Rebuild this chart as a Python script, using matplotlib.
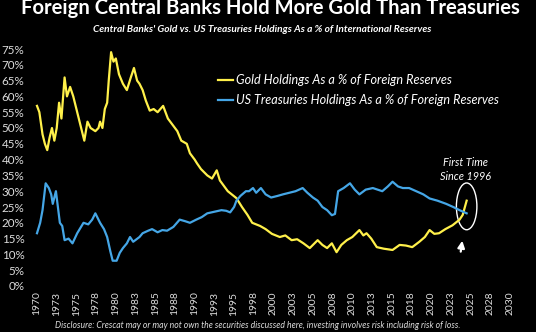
import matplotlib
matplotlib.use("Agg")
import matplotlib.pyplot as plt
from matplotlib.patches import Ellipse

plt.rcParams['font.family'] = ['Lato', 'DejaVu Sans']

gold_years = [1970.0, 1970.3, 1970.7, 1971.0, 1971.3, 1971.6, 1971.9, 1972.2, 1972.5, 1972.8,
              1973.1, 1973.5, 1973.8, 1974.2, 1974.6, 1975.1, 1975.6, 1976.0, 1976.4, 1976.8,
              1977.4, 1977.8, 1978.0, 1978.3, 1978.6, 1978.9, 1979.1, 1979.4, 1979.7, 1980.0,
              1980.4, 1980.9, 1981.4, 1981.9, 1982.3, 1982.7, 1983.0, 1983.4, 1983.8, 1984.3,
              1984.8, 1985.3, 1986.0, 1986.6, 1987.2, 1987.8, 1988.3, 1989.0, 1989.4, 1990.0,
              1990.3, 1990.8, 1991.6, 1992.2, 1992.8, 1993.2, 1994.2, 1995.3, 1996.0, 1996.7,
              1997.3, 1998.3, 1999.0, 1999.8, 2000.8, 2001.5, 2002.3, 2003.0, 2003.8, 2004.6,
              2005.6, 2006.2, 2006.8, 2007.4, 2008.0, 2008.6, 2009.3, 2010.0, 2010.9, 2011.4,
              2011.8, 2012.4, 2013.1, 2014.0, 2015.1, 2016.0, 2016.8, 2017.6, 2018.5, 2019.2,
              2019.8, 2020.4, 2021.0, 2021.8, 2022.7, 2023.6, 2024.0, 2024.5]
gold_pct = [57, 55, 48, 45, 43, 47, 50, 46, 50, 58,
            53, 66, 60, 63, 60, 55, 50, 46, 52, 50,
            49, 50, 52, 50, 56, 58, 65, 74, 71, 72,
            67, 64, 62, 66, 69, 65, 64, 62, 58.7, 55.5,
            56, 55, 57, 53, 51, 49, 46, 45, 42, 40,
            38.8, 37, 35, 34, 36.6, 33.4, 30, 27.8, 25, 22.5,
            20, 19, 18, 16.5, 15.5, 16, 14.5, 14.8, 13.5, 12,
            14.5, 13, 12, 13.5, 10.7, 13, 14.5, 15.5, 17.7, 16,
            16.7, 15, 12.3, 11.8, 11.4, 13, 12.8, 12.3, 14, 15.5,
            17.7, 16.5, 16.7, 18, 19.2, 21, 22.5, 27]

ust_years = [1970.0, 1970.4, 1970.7, 1971.1, 1971.5, 1971.8, 1972.0, 1972.4, 1972.9, 1973.2,
             1973.5, 1974.0, 1974.5, 1975.1, 1975.9, 1976.5, 1977.0, 1977.4, 1978.0, 1978.5,
             1978.9, 1979.3, 1979.6, 1980.1, 1980.5, 1980.9, 1981.4, 1981.8, 1982.2, 1983.0,
             1983.4, 1984.1, 1984.6, 1985.3, 1985.9, 1986.5, 1987.3, 1988.1, 1988.8, 1989.4,
             1990.2, 1990.9, 1991.6, 1992.5, 1993.4, 1994.0, 1994.5, 1995.0, 1995.3, 1995.8,
             1996.5, 1996.9, 1997.4, 1997.8, 1998.4, 1999.0, 1999.7, 2000.5, 2001.2, 2002.0,
             2002.8, 2003.7, 2004.3, 2005.0, 2005.6, 2006.2, 2006.8, 2007.4, 2007.8, 2008.2,
             2008.9, 2009.7, 2010.3, 2010.9, 2011.7, 2012.6, 2013.2, 2013.8, 2014.5, 2015.1,
             2015.8, 2016.4, 2017.2, 2018.1, 2019.0, 2019.8, 2020.8, 2021.9, 2022.8, 2023.6,
             2024.5]
ust_pct = [16.7, 20, 24, 32.5, 31, 29, 26, 30, 20, 19,
           14.5, 15, 13.5, 16.7, 20, 19.5, 21, 23, 20, 18,
           15.5, 11, 8, 8, 10.5, 12, 13.5, 15.5, 14, 15.5,
           16.7, 17.5, 18, 17, 17.7, 17.5, 18.7, 21, 20.5, 20,
           21, 21.8, 23, 23.5, 24, 23.8, 23.3, 25, 27, 28.5,
           30, 30, 31, 29.5, 31, 29, 28, 28.5, 29, 29.5,
           30, 31, 29.5, 28, 27, 25, 24, 22.4, 22.8, 30,
           31, 32.5, 30.5, 29, 30.5, 31, 30.5, 30, 31.5, 33,
           31.5, 31, 31, 30, 29, 27.7, 27, 26, 25, 24,
           23]

xtick_pos = [1970 + 2.5 * i for i in range(25)]
xtick_labels = ['1970', '1973', '1975', '1978', '1980', '1983', '1985', '1988', '1990', '1993',
                '1995', '1998', '2000', '2003', '2005', '2008', '2010', '2013', '2015', '2018',
                '2020', '2023', '2025', '2028', '2030']
ytick_pos = list(range(0, 80, 5))
ytick_labels = [f'{v}%' for v in ytick_pos]

W, H = 536, 332
fig = plt.figure(figsize=(W / 100, H / 100), dpi=100, facecolor='black')
ax = fig.add_axes([37 / W, (H - 286) / H, (510 - 37) / W, (286 - 49) / H], facecolor='black')

yellow = '#FFF04A'
blue = '#45A6E6'
ax.plot(gold_years, gold_pct, color=yellow, lw=1.6, clip_on=False, solid_joinstyle='round')
ax.plot(ust_years, ust_pct, color=blue, lw=1.6, clip_on=False, solid_joinstyle='round')

ax.set_xlim(1970, 2030)
ax.set_ylim(0, 75)
ax.set_xticks(xtick_pos)
ax.set_xticklabels(xtick_labels, rotation=90, color='#DDDDDD', fontsize=7.4)
ax.set_yticks(ytick_pos)
ax.set_yticklabels(ytick_labels, color='#DDDDDD', fontsize=8.4)
ax.tick_params(length=0, pad=4)
ax.tick_params(axis='y', pad=9)
for s in ax.spines.values():
    s.set_visible(False)

# legend (manual)
ax.plot([1993.0, 1994.9], [65.2, 65.2], color=yellow, lw=1.6, clip_on=False)
ax.text(1995.3, 65.2, 'Gold Holdings As a % of Foreign Reserves', color='white',
        fontsize=9.1, style='italic', va='center', ha='left')
ax.plot([1993.0, 1994.9], [58.9, 58.9], color=blue, lw=1.6, clip_on=False)
ax.text(1995.3, 58.9, 'US Treasuries Holdings As a % of Foreign Reserves', color='white',
        fontsize=9.1, style='italic', va='center', ha='left')

# annotation
ax.text(2024.4, 36.9, 'First Time\nSince 1996', color='white', fontsize=7.8, style='italic',
        ha='center', va='center', linespacing=1.3)
ax.add_patch(Ellipse((2024.5, 25.2), 2.6, 14.8, fill=False, edgecolor='white', lw=1.0,
                     clip_on=False))
ax.annotate('', xy=(2024.0, 15.2), xytext=(2023.7, 10.0),
            arrowprops=dict(arrowstyle='-|>', color='white', lw=1.6, mutation_scale=10))

fig.text(270 / W, 1 - 14 / H, 'Foreign Central Banks Hold More Gold Than Treasuries',
         color='white', fontsize=14.6, fontweight='bold', ha='center', va='baseline')
fig.text(262 / W, 1 - 29 / H,
         "Central Banks' Gold vs. US Treasuries Holdings As a % of International Reserves",
         color='white', fontsize=7.3, fontweight='bold', style='italic', ha='center', va='center')
fig.text(258 / W, 1 - 325 / H,
         'Disclosure: Crescat may or may not own the securities discussed here, investing involves risk including risk of loss.',
         color='#DDDDDD', fontsize=6.2, style='italic', ha='center', va='center')

fig.savefig('out.png', dpi=100, facecolor='black')
